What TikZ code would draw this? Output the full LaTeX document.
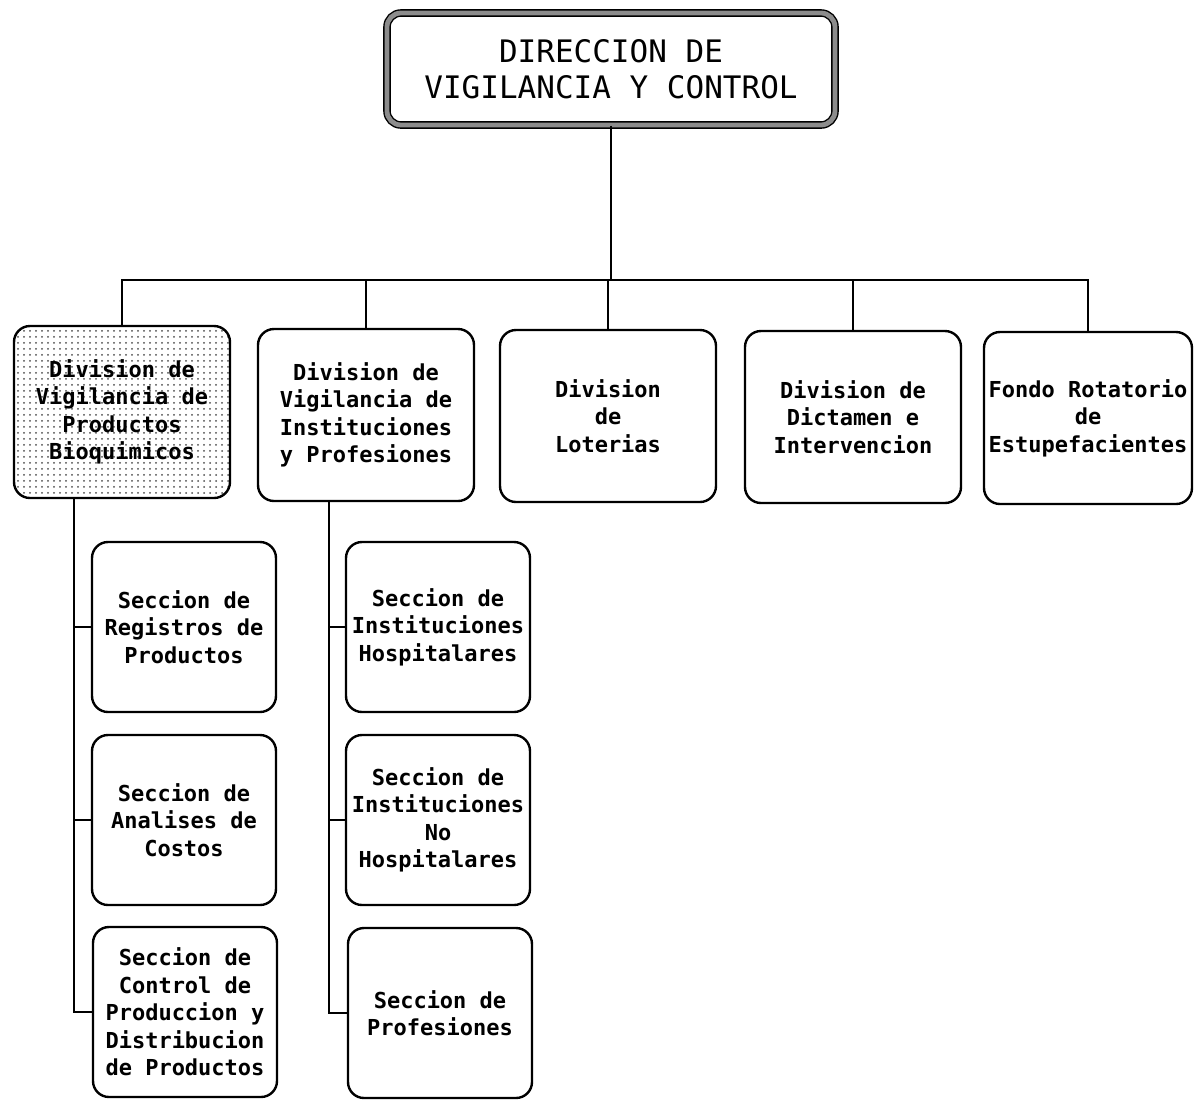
\documentclass[tikz,border=0pt]{standalone}
\usepackage{fontspec}
\setmonofont{DejaVu Sans Mono}
\usetikzlibrary{patterns, positioning, calc}
\tikzset{
  every picture/.style={line width=1pt},
  head/.style={draw=black, double=black!45, double distance=2.4pt, line width=0.7pt, rounded corners=7pt, align=center, font=\ttfamily\fontsize{15.5}{18}\selectfont, minimum width=224pt, minimum height=56pt},
  unit/.style={draw=black, fill=white, line width=1.2pt, rounded corners=8pt, align=center, inner sep=2pt, font=\ttfamily\bfseries\fontsize{11}{13.75}\selectfont},
  divbox/.style={unit, minimum width=108pt, minimum height=86pt},
  secbox/.style={unit, minimum width=92pt, minimum height=85pt},
  link/.style={draw=black, line width=1.1pt},
}
\begin{document}
\begin{tikzpicture}[x=0.5pt, y=-0.5pt]
  \useasboundingbox (0,0) rectangle (1194,1099);
  \node[head] (dir) at (611,69) {DIRECCION DE\\VIGILANCIA Y CONTROL};
  \node[divbox, pattern=dots, pattern color=black!70] (divA) at (122,412) {Division de\\Vigilancia de\\Productos\\Bioquimicos};
  \node[divbox] (divB) at (366,415) {Division de\\Vigilancia de\\Instituciones\\y Profesiones};
  \node[divbox] (divC) at (608,416) {Division\\de\\Loterias};
  \node[divbox] (divD) at (853,417) {Division de\\Dictamen e\\Intervencion};
  \node[divbox, minimum width=104pt] (divE) at (1088,418) {Fondo Rotatorio\\de\\Estupefacientes};
  \node[secbox] (secA1) at (184,627) {Seccion de\\Registros de\\Productos};
  \node[secbox] (secA2) at (184,820) {Seccion de\\Analises de\\Costos};
  \node[secbox] (secA3) at (185,1012) {Seccion de\\Control de\\Produccion y\\Distribucion\\de Productos};
  \node[secbox] (secB1) at (438,627) {Seccion de\\Instituciones\\Hospitalares};
  \node[secbox] (secB2) at (438,820) {Seccion de\\Instituciones\\No\\Hospitalares};
  \node[secbox] (secB3) at (440,1013) {Seccion de\\Profesiones};
  \coordinate (busy) at (0,280);
  \coordinate (bus) at (dir.south |- busy);
  \draw[link] (dir.south) -- (bus);
  \foreach \d in {divA,divB,divC,divD,divE}
    \draw[link] (\d.north) |- (bus);
  \coordinate (trunkA) at ([xshift=-24pt]divA.south);
  \coordinate (trunkB) at ([xshift=-18.5pt]divB.south);
  \draw[link] (trunkA) |- (secA3.west);
  \draw[link] (trunkB) |- (secB3.west);
  \foreach \s in {secA1,secA2}
    \draw[link] (\s.west) -- (\s.west -| trunkA);
  \foreach \s in {secB1,secB2}
    \draw[link] (\s.west) -- (\s.west -| trunkB);
\end{tikzpicture}
\end{document}
